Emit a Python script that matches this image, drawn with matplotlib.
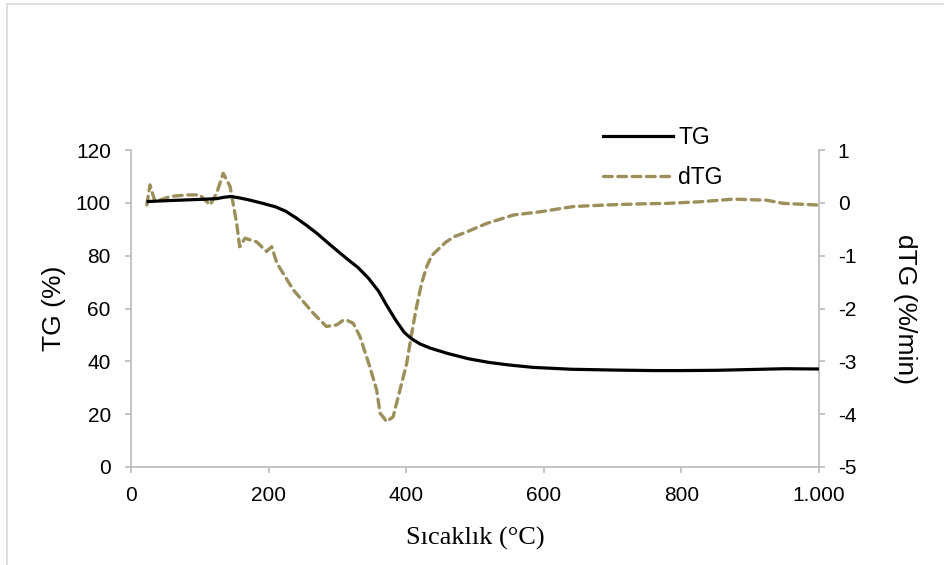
import matplotlib
matplotlib.use("Agg")
import matplotlib.pyplot as plt
from matplotlib.lines import Line2D
from matplotlib.ticker import FuncFormatter

# TG data (temperature °C, mass %)
tg_temp = [25, 50, 80, 110, 125, 135, 145, 155, 170, 190, 210, 225, 240, 255, 270, 290, 313, 330, 345, 360, 372, 385, 397, 408, 420, 435, 460, 490, 520, 550, 585, 640, 700, 760, 800, 850, 900, 950, 1000]
tg_val = [100.5, 100.8, 101.1, 101.4, 101.6, 102.1, 102.4, 102.0, 101.2, 99.9, 98.5, 96.8, 94.3, 91.5, 88.5, 84.0, 79.0, 75.5, 71.5, 66.5, 61.0, 55.5, 51.0, 48.5, 46.6, 45.0, 43.0, 41.0, 39.6, 38.6, 37.7, 37.0, 36.7, 36.5, 36.5, 36.6, 36.9, 37.2, 37.1]

# dTG data (temperature °C, %/min)
dtg_temp = [23, 27.6, 35, 57, 81, 100, 115, 124.5, 134, 144, 153.6, 158, 165.7, 182.7, 197, 204.5, 212, 236, 265, 284, 299, 308.6, 313.5, 323, 332.8, 347, 357, 362, 371.6, 381, 391, 400.7, 408, 415, 422.5, 430, 437, 445.8, 457, 469.8, 488, 517, 556, 594.5, 643, 691, 740, 779, 827, 875.5, 924, 948, 996.6]
dtg_val = [-0.04, 0.34, 0.02, 0.12, 0.15, 0.15, -0.04, 0.18, 0.56, 0.31, -0.39, -0.83, -0.67, -0.74, -0.92, -0.83, -1.14, -1.65, -2.09, -2.34, -2.31, -2.22, -2.22, -2.28, -2.53, -3.10, -3.54, -3.98, -4.14, -4.05, -3.54, -3.04, -2.47, -1.97, -1.52, -1.20, -1.00, -0.89, -0.75, -0.64, -0.55, -0.39, -0.23, -0.17, -0.07, -0.04, -0.02, -0.01, 0.02, 0.07, 0.05, -0.01, -0.04]

x_ticks = [0, 200, 400, 600, 800, 1000]
tg_ticks = [0, 20, 40, 60, 80, 100, 120]
dtg_ticks = [-5, -4, -3, -2, -1, 0, 1]

plt.rcParams['font.family'] = ['Liberation Sans', 'DejaVu Sans']
plt.rcParams['axes.unicode_minus'] = False
grey = '#BFBFBF'
olive = '#9C8F5A'

fig = plt.figure(figsize=(9.44, 5.65), dpi=100)
ax = fig.add_axes([131/944, 1-467/565, (819-131)/944, (467-150)/565])
ax2 = ax.twinx()

l1, = ax.plot(tg_temp, tg_val, color='black', lw=2.3, label='TG', zorder=3,
              solid_joinstyle='round')
l2, = ax2.plot(dtg_temp, dtg_val, color=olive, lw=2.4, ls=(0, (2.6, 1.7)), label='dTG',
               dash_capstyle='round', dash_joinstyle='round')
ax.set_zorder(ax2.get_zorder() + 1)
ax.patch.set_visible(False)

ax.set_xlim(0, 1000)
ax.set_ylim(0, 120)
ax2.set_ylim(-5, 1)
ax.set_xticks(x_ticks)
ax.set_yticks(tg_ticks)
ax2.set_yticks(dtg_ticks)
ax.xaxis.set_major_formatter(FuncFormatter(lambda v, p: f"{int(v):,}".replace(',', '.')))

for a in (ax, ax2):
    a.spines['top'].set_visible(False)
    for s in ('left', 'right', 'bottom'):
        a.spines[s].set_color(grey)
        a.spines[s].set_linewidth(1.3)
    a.tick_params(direction='out', length=4.5, width=1.3, color=grey, labelsize=15, labelcolor='black')
ax.spines['right'].set_visible(False)
ax2.spines['left'].set_visible(False)
ax2.spines['bottom'].set_visible(False)
ax.tick_params(axis='y', pad=10)
ax2.tick_params(axis='y', pad=9)
ax.tick_params(axis='x', pad=9)

ax.set_ylabel('TG (%)', fontsize=19, labelpad=7)
ax2.set_ylabel('dTG (%/min)', fontsize=19, rotation=270, labelpad=44)
ax.set_xlabel('Sıcaklık (°C)', fontsize=19, family=['Liberation Serif', 'DejaVu Serif'], labelpad=16)

fig.legend([l1, l2], ['TG', 'dTG'], loc='upper left', bbox_to_anchor=(582/944, 1-105/565),
           frameon=False, fontsize=16.5, handlelength=3.05, labelspacing=0.75, handletextpad=0.26)

fig.add_artist(Line2D([7/944, 7/944], [0, 1-4/565], transform=fig.transFigure, color='#D9D9D9', lw=1.2))
fig.add_artist(Line2D([7/944, 1], [1-4/565, 1-4/565], transform=fig.transFigure, color='#D9D9D9', lw=1.2))

fig.savefig('out.png', dpi=100)
